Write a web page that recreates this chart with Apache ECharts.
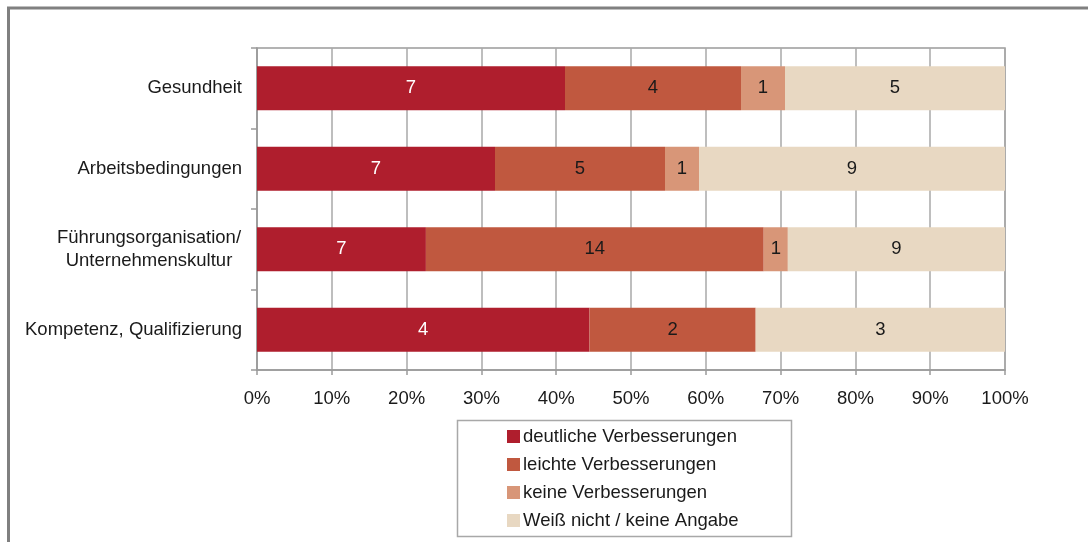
<!DOCTYPE html>
<html>
<head>
<meta charset="utf-8">
<script src="https://cdn.jsdelivr.net/npm/echarts@6/dist/echarts.min.js"></script>
<style>
  html, body { margin: 0; padding: 0; background: #fff; }
  #chart { width: 1088px; height: 542px; }
</style>
</head>
<body>
<div id="chart"></div>
<script>
// Kategorien von oben nach unten
const categories = [
  'Gesundheit',
  'Arbeitsbedingungen',
  'Führungsorganisation/\nUnternehmenskultur',
  'Kompetenz, Qualifizierung'
]
const seriesNames = [
  'deutliche Verbesserungen',
  'leichte Verbesserungen',
  'keine Verbesserungen',
  'Weiß nicht / keine Angabe'
]
// Anzahl Nennungen je Kategorie
const deutlich = [7, 7, 7, 4]
const leicht   = [4, 5, 14, 2]
const keine    = [1, 1, 1, 0]
const weissNicht = [5, 9, 9, 3]
const xTicks = ['0%', '10%', '20%', '30%', '40%', '50%', '60%', '70%', '80%', '90%', '100%']

const colors = ['#AF1E2D', '#C0583F', '#D89678', '#E8D8C2']
const FONT = "'Liberation Sans', Arial, sans-serif"
const FS = 18.5

const counts = [deutlich, leicht, keine, weissNicht]
const totals = categories.map((_, i) => counts.reduce((s, arr) => s + arr[i], 0))

const series = counts.map((arr, k) => ({
  name: seriesNames[k],
  type: 'bar',
  stack: 'total',
  barWidth: 44,
  itemStyle: { color: colors[k] },
  label: {
    show: true,
    position: 'inside',
    fontFamily: FONT,
    fontSize: FS,
    color: k === 0 ? '#fff' : '#1a1a1a',
    formatter: p => (arr[p.dataIndex] ? String(arr[p.dataIndex]) : '')
  },
  data: arr.map((v, i) => v / totals[i] * 100)
}))

const chart = echarts.init(document.getElementById('chart'), null, { renderer: 'canvas' })
chart.setOption({
  animation: false,
  backgroundColor: '#fff',
  textStyle: { fontFamily: FONT },
  grid: {
    left: 257, right: 83, top: 48, bottom: 172,
    show: true, borderColor: '#9a9a9a', borderWidth: 1.5
  },
  legend: {
    orient: 'vertical',
    left: 507, top: 427, height: 140, padding: 0,
    itemWidth: 13, itemHeight: 13, itemGap: 9,
    icon: 'rect',
    textStyle: { fontFamily: FONT, fontSize: FS, color: '#1a1a1a', padding: [0, 0, 0, -2] },
    data: seriesNames
  },
  xAxis: {
    type: 'value',
    min: 0, max: 100, interval: 10,
    axisLine: { show: true, lineStyle: { color: '#9a9a9a', width: 1.5 } },
    axisTick: { show: true, length: 5, lineStyle: { color: '#9a9a9a', width: 1.5 } },
    axisLabel: {
      fontFamily: FONT, fontSize: FS, color: '#1a1a1a', margin: 19,
      formatter: v => xTicks[Math.round(v / 10)]
    },
    splitLine: { show: true, lineStyle: { color: '#a8a8a8', width: 1.5 } }
  },
  yAxis: {
    type: 'category',
    inverse: true,
    data: categories,
    axisLine: { show: true, lineStyle: { color: '#9a9a9a', width: 1.5 } },
    axisTick: { show: true, length: 6, lineStyle: { color: '#9a9a9a', width: 1.5 } },
    axisLabel: {
      fontFamily: FONT, fontSize: FS, color: '#1a1a1a', margin: 15, lineHeight: 23,
      formatter: v => v.indexOf('\n') >= 0
        ? v.split('\n').map(s => '{c|' + s + '}').join('\n')
        : v,
      rich: {
        c: { fontFamily: FONT, fontSize: FS, color: '#1a1a1a', width: 186, align: 'center', lineHeight: 23 }
      }
    }
  },
  graphic: [
    // äußerer Rahmen (links und oben)
    { type: 'line', shape: { x1: 8.5, y1: 8, x2: 8.5, y2: 542 }, style: { stroke: '#808080', lineWidth: 3 } },
    { type: 'line', shape: { x1: 7, y1: 8, x2: 1088, y2: 8 }, style: { stroke: '#808080', lineWidth: 3 } },
    // Legendenrahmen
    { type: 'rect', shape: { x: 457.5, y: 420.5, width: 334, height: 116 }, style: { fill: 'none', stroke: '#a8a8a8', lineWidth: 1.5 }, z: -1 }
  ],
  series: series
})
</script>
</body>
</html>
